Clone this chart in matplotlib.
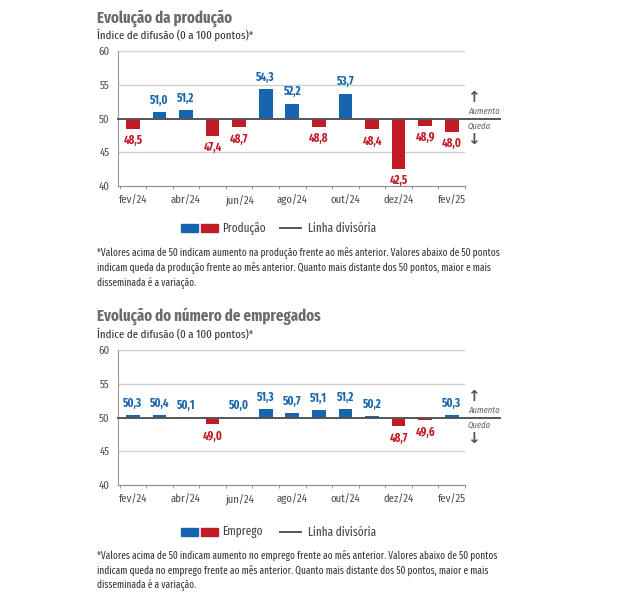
import matplotlib
matplotlib.use("Agg")
import matplotlib.pyplot as plt
from matplotlib.patches import Rectangle
from matplotlib.lines import Line2D

# ------------------ Data -------------------
months = ["fev/24", "mar/24", "abr/24", "mai/24", "jun/24", "jul/24", "ago/24",
          "set/24", "out/24", "nov/24", "dez/24", "jan/25", "fev/25"]
producao = [48.5, 51.0, 51.2, 47.4, 48.7, 54.3, 52.2, 48.8, 53.7, 48.4, 42.5, 48.9, 48.0]
emprego = [50.3, 50.4, 50.1, 49.0, 50.0, 51.3, 50.7, 51.1, 51.2, 50.2, 48.7, 49.6, 50.3]
yticks = [40, 45, 50, 55, 60]

BLUE = "#1766ad"
RED = "#c11b26"
GRAY = "#6b6b6b"
TXT = "#333333"

plt.rcParams['font.family'] = ['Fira Sans Extra Condensed', 'Fira Sans Condensed',
                               'Barlow Semi Condensed', 'DejaVu Sans']

W, H = 639, 602
fig = plt.figure(figsize=(W / 100, H / 100), dpi=100)


def px(x, y):
    return x / W, 1 - y / H


def panel(top, values, title, name, note, legend_y, note_y):
    left, right = 118, 465
    bottom = top + 135
    ax = fig.add_axes([left / W, 1 - bottom / H, (right - left) / W, 135 / H])
    xs = range(len(values))
    for x, v in zip(xs, values):
        col = BLUE if v >= 50 else RED
        ax.bar(x, v - 50, bottom=50, width=0.52, color=col, zorder=3)
        lab = f"{v:.1f}".replace(".", ",")
        if v >= 50:
            ax.annotate(lab, (x, v), xytext=(0, 4), textcoords="offset points",
                        ha="center", va="bottom", color=BLUE, fontsize=8.5,
                        fontweight="bold")
        else:
            ax.annotate(lab, (x, v), xytext=(0, -4), textcoords="offset points",
                        ha="center", va="top", color=RED, fontsize=8.5,
                        fontweight="bold")
    ax.set_xlim(-0.56, 12.48)
    ax.set_ylim(40, 60)
    ax.set_yticks(yticks)
    ax.set_xticks(range(0, len(months), 2))
    ax.set_xticklabels(months[::2])
    ax.set_xticks([k + 0.5 for k in range(-1, len(months))], minor=True)
    ax.tick_params(axis="both", which="major", labelsize=8.4, colors="#505050",
                   length=0, pad=6)
    ax.tick_params(axis="x", which="minor", length=2.5, color="#888888")
    for y in yticks[1:]:
        if y != 50:
            ax.axhline(y, color="#d0d0d0", lw=1, zorder=1)
    ax.plot([-0.56, 13.8], [50, 50], color="#555555", lw=1.4, zorder=4,
            clip_on=False)
    for s in ["top", "right"]:
        ax.spines[s].set_visible(False)
    ax.spines["left"].set_color("#999999")
    ax.spines["bottom"].set_color("#888888")

    # titles
    fig.text(*px(97, top - 33), title, fontsize=11.6, fontweight="bold",
             color=GRAY, va="center")
    fig.text(*px(97, top - 16), "Índice de difusão (0 a 100 pontos)*",
             fontsize=8.5, color=TXT, va="center")

    # Aumento / Queda markers
    y50 = top + 67.5
    fig.text(*px(473, y50 - 21), "↑", fontsize=11, color="#555555",
             ha="center", va="center", fontweight="bold", family="DejaVu Sans")
    fig.text(*px(468, y50 - 7), "Aumento", fontsize=6.8, color=GRAY,
             style="italic", va="center")
    fig.text(*px(468, y50 + 8), "Queda", fontsize=6.8, color=GRAY,
             style="italic", va="center")
    fig.text(*px(473, y50 + 21), "↓", fontsize=11, color="#555555",
             ha="center", va="center", fontweight="bold", family="DejaVu Sans")

    # legend
    x0 = 181
    fig.patches.append(Rectangle(px(x0, legend_y + 4), 17 / W, 8 / H,
                                 transform=fig.transFigure, color=BLUE))
    fig.patches.append(Rectangle(px(x0 + 20, legend_y + 4), 17 / W, 8 / H,
                                 transform=fig.transFigure, color=RED))
    fig.text(*px(x0 + 41, legend_y), name, fontsize=8.8, color="#444444",
             va="center")
    lx = x0 + 99
    fig.lines.append(Line2D([lx / W, (lx + 21) / W], [1 - legend_y / H] * 2,
                            transform=fig.transFigure, color="#555555", lw=1.4))
    fig.text(*px(lx + 28, legend_y), "Linha divisória", fontsize=8.8,
             color="#444444", va="center")

    # footnote
    fig.text(*px(97, note_y), note, fontsize=7.3, color=TXT, va="top",
             linespacing=1.4)
    return ax


note1 = ("*Valores acima de 50 indicam aumento na produção frente ao mês anterior. "
         "Valores abaixo de 50 pontos\nindicam queda da produção frente ao mês anterior. "
         "Quanto mais distante dos 50 pontos, maior e mais\ndisseminada é a variação.")
note2 = ("*Valores acima de 50 indicam aumento no emprego frente ao mês anterior. "
         "Valores abaixo de 50 pontos\nindicam queda no emprego frente ao mês anterior. "
         "Quanto mais distante dos 50 pontos, maior e mais\ndisseminada é a variação.")

panel(51, producao, "Evolução da produção", "Produção", note1, 228, 246)
panel(350, emprego, "Evolução do número de empregados", "Emprego", note2, 532, 550)

fig.savefig("out.png", dpi=100)
